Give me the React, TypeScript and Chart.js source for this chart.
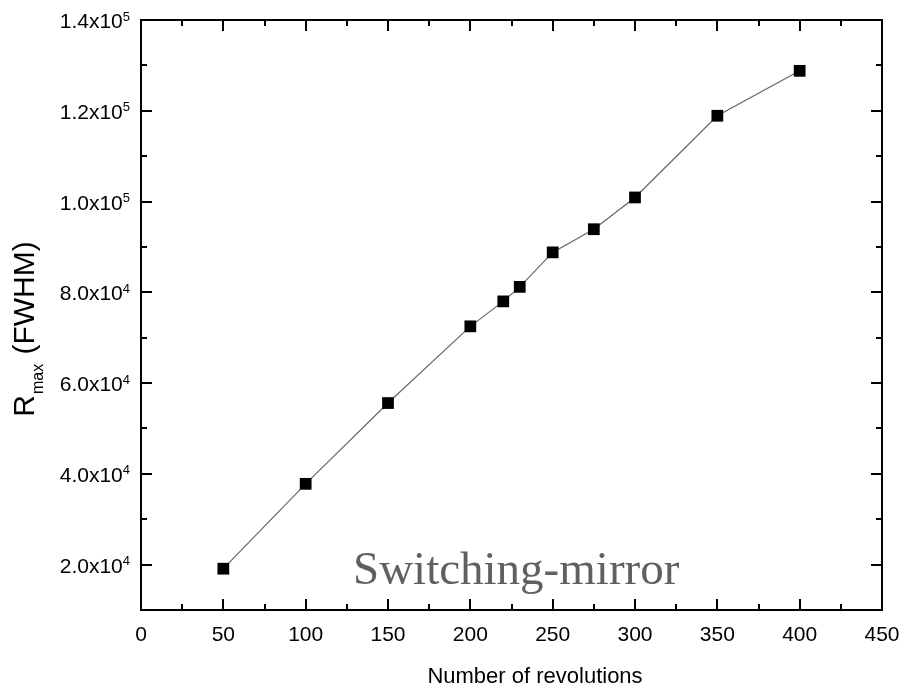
import React, { useEffect, useRef } from "react";
import { Chart, registerables } from "chart.js";

Chart.register(...registerables);

// Resolving power against number of revolutions
const revolutions = [50, 100, 150, 200, 220, 230, 250, 275, 300, 350, 400];
const rmax = [19100, 37800, 55600, 72500, 78000, 81200, 88800, 93900, 100900, 118900, 128800];

// Axis ticks
const xMajorTicks = [0, 50, 100, 150, 200, 250, 300, 350, 400, 450];
const xMinorTicks = [25, 75, 125, 175, 225, 275, 325, 375, 425];
const yMajorTicks = [20000, 40000, 60000, 80000, 100000, 120000, 140000];
const yMinorTicks = [10000, 30000, 50000, 70000, 90000, 110000, 130000];
const yTickMantissa = ["2.0", "4.0", "6.0", "8.0", "1.0", "1.2", "1.4"];
const yTickExponent = ["4", "4", "4", "4", "5", "5", "5"];

const xTitle = "Number of revolutions";
const annotation = "Switching-mirror";

const SANS = '"Liberation Sans", Arial, sans-serif';
const SERIF = '"Liberation Serif", "Times New Roman", serif';

const framePlugin = {
  id: "originFrame",
  afterDraw(chart: any) {
    const { ctx, chartArea: a, scales } = chart;
    const xs = scales.x;
    const ys = scales.y;
    ctx.save();

    // frame
    ctx.strokeStyle = "#000";
    ctx.lineWidth = 2;
    ctx.strokeRect(a.left, a.top, a.right - a.left, a.bottom - a.top);

    // inward ticks on all four sides
    const major = 11;
    const minor = 6;
    ctx.beginPath();
    const xTick = (v: number, len: number) => {
      const px = Math.round(xs.getPixelForValue(v));
      ctx.moveTo(px, a.bottom);
      ctx.lineTo(px, a.bottom - len);
      ctx.moveTo(px, a.top);
      ctx.lineTo(px, a.top + len);
    };
    const yTick = (v: number, len: number) => {
      const py = Math.round(ys.getPixelForValue(v));
      ctx.moveTo(a.left, py);
      ctx.lineTo(a.left + len, py);
      ctx.moveTo(a.right, py);
      ctx.lineTo(a.right - len, py);
    };
    xMajorTicks.forEach((v) => xTick(v, major));
    xMinorTicks.forEach((v) => xTick(v, minor));
    yMajorTicks.forEach((v) => yTick(v, major));
    yMinorTicks.forEach((v) => yTick(v, minor));
    ctx.stroke();

    // x tick labels
    ctx.fillStyle = "#000";
    ctx.font = `21px ${SANS}`;
    ctx.textAlign = "center";
    ctx.textBaseline = "alphabetic";
    xMajorTicks.forEach((v) => {
      ctx.fillText(String(v), xs.getPixelForValue(v), a.bottom + 31);
    });

    // y tick labels with superscript exponent
    const labelRight = a.left - 11;
    yMajorTicks.forEach((v, i) => {
      const py = ys.getPixelForValue(v);
      const main = `${yTickMantissa[i]}x10`;
      ctx.font = `21px ${SANS}`;
      const wMain = ctx.measureText(main).width;
      ctx.font = `13px ${SANS}`;
      const wSup = ctx.measureText(yTickExponent[i]).width;
      const x0 = labelRight - wMain - wSup;
      ctx.textAlign = "left";
      ctx.font = `21px ${SANS}`;
      ctx.fillText(main, x0, py + 8);
      ctx.font = `13px ${SANS}`;
      ctx.fillText(yTickExponent[i], x0 + wMain, py + 0.5);
    });

    // x axis title
    ctx.font = `22px ${SANS}`;
    ctx.textAlign = "center";
    ctx.fillText(xTitle, 535, 683);

    // y axis title: R with subscript "max"
    ctx.save();
    const bigFont = `30px ${SANS}`;
    const subFont = `16px ${SANS}`;
    ctx.font = bigFont;
    const wR = ctx.measureText("R").width;
    const wRest = ctx.measureText(" (FWHM)").width;
    ctx.font = subFont;
    const wSub = ctx.measureText("max").width + 2;
    const total = wR + wSub + wRest;
    ctx.translate(34, 329 + total / 2);
    ctx.rotate(-Math.PI / 2);
    ctx.textAlign = "left";
    ctx.font = bigFont;
    ctx.fillText("R", 0, 0);
    ctx.font = subFont;
    ctx.fillText("max", wR + 1, 9);
    ctx.font = bigFont;
    ctx.fillText(" (FWHM)", wR + wSub, 0);
    ctx.restore();

    // annotation inside the plot
    ctx.font = `47px ${SERIF}`;
    ctx.fillStyle = "#606060";
    ctx.textAlign = "left";
    ctx.fillText(annotation, 353, 584);

    ctx.restore();
  },
};

export default function App() {
  const canvasRef = useRef<HTMLCanvasElement | null>(null);

  useEffect(() => {
    document.body.style.margin = "0";
    const canvas = canvasRef.current;
    if (!canvas) return;
    const chart = new Chart(canvas, {
      type: "line",
      data: {
        datasets: [
          {
            data: revolutions.map((x, i) => ({ x, y: rmax[i] })),
            borderColor: "#666666",
            borderWidth: 1.2,
            pointStyle: "rect",
            pointRadius: 8.3,
            pointHoverRadius: 8.3,
            pointBackgroundColor: "#000",
            pointBorderColor: "#000",
            pointBorderWidth: 0,
            tension: 0,
          },
        ],
      },
      options: {
        responsive: false,
        animation: false,
        layout: { padding: { left: 141, top: 20, right: 19, bottom: 83 } },
        plugins: {
          legend: { display: false },
          tooltip: { enabled: false },
        },
        scales: {
          x: { type: "linear", min: 0, max: 450, display: false },
          y: { type: "linear", min: 10000, max: 140000, display: false },
        },
      },
      plugins: [framePlugin],
    });
    return () => chart.destroy();
  }, []);

  return (
    <div style={{ width: 901, height: 693, background: "#fff" }}>
      <canvas ref={canvasRef} width={901} height={693} />
    </div>
  );
}
